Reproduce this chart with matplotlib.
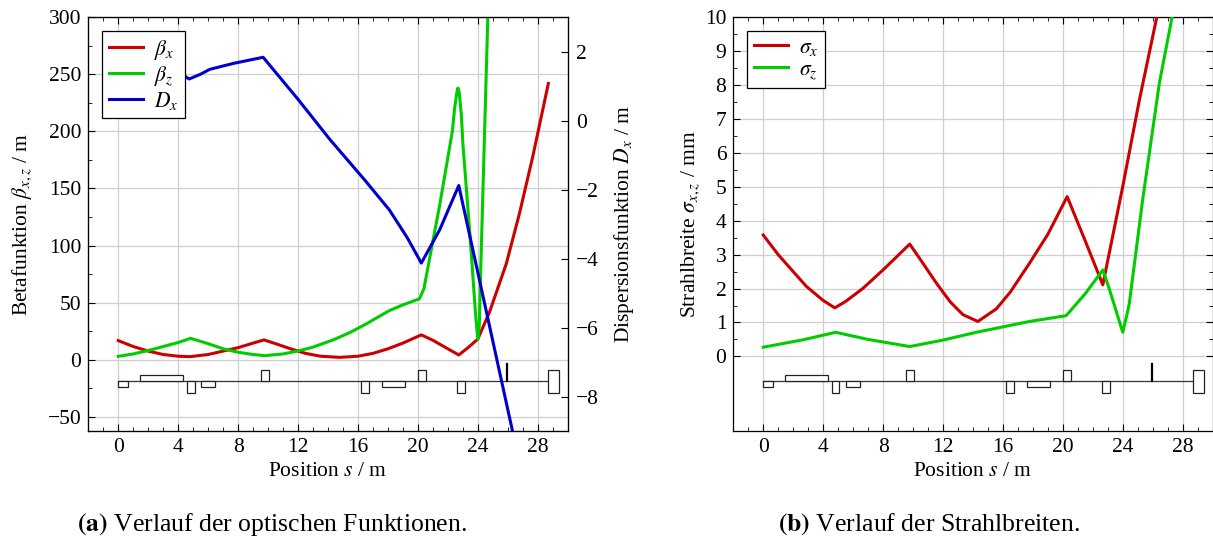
import matplotlib
matplotlib.use('Agg')
from matplotlib import pyplot as plt
from matplotlib import transforms
from matplotlib.patches import Rectangle
from matplotlib.ticker import MultipleLocator, FixedLocator

# ---- optische Funktionen ----
s_bx = [0, 1, 2, 3, 4, 4.78, 6, 7, 8, 9, 9.73, 10.5, 11.5, 12.5, 13.5, 14.78, 16, 17, 18, 19,
        20.23, 21, 22, 22.73, 23.3, 24, 24.78, 25.9, 26.78, 27.67, 28.71]
beta_x = [16.7, 11.5, 7.5, 4.5, 3.0, 2.6, 4.5, 7.5, 10.5, 14.5, 17.3, 14, 9.5, 5.5, 3, 2, 3, 5.5, 9.5, 14.5,
          21.7, 17, 9.5, 4.1, 10, 18, 41.6, 84, 128, 178, 242]

s_bz = [0, 1, 2, 3, 4, 4.83, 6, 7, 8, 9, 9.78, 11, 12.1, 13, 14.35, 15.5, 16.56, 17.5, 18.1, 19, 20.1,
        20.4, 21.45, 22.3, 22.45, 22.6, 22.67, 22.75, 22.9, 23.0, 23.5, 23.85, 24.0, 24.1, 24.2, 24.45,
        24.67, 24.8]
beta_z = [2.9, 5, 8, 11.5, 15, 18.7, 14, 9.5, 6.5, 4.5, 3.5, 5, 7.9, 11, 17.3, 24, 31.4, 38.5, 43, 48, 53.3,
          62, 135, 200, 220, 234, 238, 235, 215, 190, 105, 40, 18, 30, 81, 198, 301, 380]

s_dx = [0, 1.47, 3, 4.4, 4.73, 5.5, 6.11, 7.67, 9.67, 12, 14.1, 16.45, 18.1, 19.3, 20.23, 21.45, 22.73,
        24.11, 26.3, 26.5]
disp_x = [1.0, 1.0, 1.15, 1.3, 1.21, 1.35, 1.49, 1.66, 1.84, 0.62, -0.53, -1.72, -2.59, -3.4, -4.13, -3.17,
          -1.88, -4.62, -8.97, -9.37]

# ---- Strahlbreiten ----
s_sx = [0, 1, 2, 2.89, 4, 4.78, 5.5, 6.67, 8, 9.78, 10.5, 11.56, 12.5, 13.33, 14.33, 15.56, 16.5, 17.78,
        19, 20.29, 21.5, 22.67, 24.0, 25.11, 26.27, 26.6]
sigma_x = [3.58, 3.0, 2.5, 2.06, 1.65, 1.43, 1.62, 2.01, 2.55, 3.31, 2.85, 2.16, 1.6, 1.23, 1.03, 1.40, 1.9,
           2.75, 3.6, 4.71, 3.4, 2.11, 5.01, 7.56, 10.0, 10.7]

s_sz = [0, 2.67, 4.84, 7, 9.78, 12, 14.22, 16, 17.78, 20.22, 21.5, 22.67, 23.1, 23.67, 24.0, 24.33, 24.44,
        25.33, 26.44, 27.29, 27.5]
sigma_z = [0.27, 0.49, 0.71, 0.5, 0.29, 0.48, 0.71, 0.87, 1.03, 1.2, 1.85, 2.55, 1.99, 1.18, 0.71, 1.33, 1.57,
           4.62, 8.05, 10.0, 10.5]

# ---- Lattice ----
elem_start = [0.0, 1.47, 4.6, 5.51, 9.56, 16.23, 17.63, 20.03, 22.63, 28.67]
elem_len = [0.67, 2.86, 0.49, 0.92, 0.51, 0.5, 1.5, 0.5, 0.5, 0.78]
elem_kind = ['klein_unten', 'klein_oben', 'quad_unten', 'klein_unten', 'quad_oben',
             'quad_unten', 'klein_unten', 'quad_oben', 'quad_unten', 'gross']
marker_pos = [25.96]
lattice_end = 28.67

ROT = '#cc0000'
GRUEN = '#00cc00'
BLAU = '#0000cc'

plt.rcParams['font.family'] = ['Liberation Serif', 'DejaVu Serif']
plt.rcParams['mathtext.fontset'] = 'stix'
plt.rcParams['font.size'] = 15.5

# box heights in axes fraction (base, height)
BASIS = 0.12
hoehe = {
    'klein_unten': (BASIS - 0.0145, 0.0145),
    'klein_oben': (BASIS, 0.0145),
    'quad_unten': (BASIS - 0.028, 0.028),
    'quad_oben': (BASIS, 0.028),
    'gross': (BASIS - 0.028, 0.056),
}


def zeichne_lattice(ax):
    trans = transforms.blended_transform_factory(ax.transData, ax.transAxes)
    ax.plot([0, lattice_end], [BASIS, BASIS], color='#333333', lw=0.9, transform=trans, zorder=3)
    for st, ln, kind in zip(elem_start, elem_len, elem_kind):
        y0, h = hoehe[kind]
        ax.add_patch(Rectangle((st, y0), ln, h, transform=trans, facecolor='white',
                               edgecolor='#222222', lw=0.9, zorder=4))
    for m in marker_pos:
        ax.plot([m, m], [BASIS, BASIS + 0.041], color='black', lw=1.6, transform=trans, zorder=4)


def achsen_stil(ax):
    ax.set_xlim(-2, 30)
    ax.xaxis.set_major_locator(MultipleLocator(4))
    ax.xaxis.set_minor_locator(MultipleLocator(1))
    ax.grid(True, which='major', color='#cfcfcf', lw=0.9, zorder=0)
    ax.set_axisbelow(True)
    ax.tick_params(which='both', direction='in', top=True, pad=5)
    ax.tick_params(which='major', length=5)
    ax.tick_params(which='minor', length=3)
    ax.set_xlabel('Position $s$ / m', labelpad=4)
    for sp in ax.spines.values():
        sp.set_linewidth(0.9)


def legende(ax, handles):
    leg = ax.legend(handles=handles, loc='upper left', borderaxespad=0.65, fancybox=False,
                    framealpha=1, edgecolor='black', handlelength=1.6, labelspacing=0.1,
                    borderpad=0.3, handletextpad=0.5)
    leg.get_frame().set_linewidth(0.9)
    leg.set_zorder(10)
    return leg


fig = plt.figure(figsize=(12.13, 5.43), dpi=100)

# (a) optische Funktionen
ax = fig.add_axes([0.0728, 0.2063, 0.3952, 0.7619])
achsen_stil(ax)
ax.set_ylim(-62.5, 300)
ax.yaxis.set_major_locator(MultipleLocator(50))
ax.yaxis.set_minor_locator(MultipleLocator(25))
ax.tick_params(which='both', right=False)
l1, = ax.plot(s_bx, beta_x, color=ROT, lw=2.2, label=r'$\beta_x$', zorder=5)
l2, = ax.plot(s_bz, beta_z, color=GRUEN, lw=2.2, label=r'$\beta_z$', zorder=5)
zeichne_lattice(ax)
ax.set_ylabel(r'Betafunktion $\beta_{x,z}$ / m', labelpad=10)

ax2 = ax.twinx()
ax2.set_ylim(-9, 3)
ax2.yaxis.set_major_locator(FixedLocator([-8, -6, -4, -2, 0, 2]))
ax2.tick_params(direction='in', length=5, pad=6)
l3, = ax2.plot(s_dx, disp_x, color=BLAU, lw=2.2, label=r'$D_x$')
ax2.set_ylabel(r'Dispersionsfunktion $D_x$ / m', labelpad=9)
legende(ax2, [l1, l2, l3])

# (b) Strahlbreiten
bx = fig.add_axes([0.6045, 0.2063, 0.3952, 0.7619])
achsen_stil(bx)
bx.set_ylim(-2.2, 10)
bx.yaxis.set_major_locator(FixedLocator(range(0, 11)))
bx.yaxis.set_minor_locator(FixedLocator([k + 0.5 for k in range(10)]))
bx.tick_params(which='both', right=True)
m1, = bx.plot(s_sx, sigma_x, color=ROT, lw=2.2, label=r'$\sigma_x$', zorder=5)
m2, = bx.plot(s_sz, sigma_z, color=GRUEN, lw=2.2, label=r'$\sigma_z$', zorder=5)
zeichne_lattice(bx)
bx.set_ylabel(r'Strahlbreite $\sigma_{x,z}$ / mm', labelpad=2)
legende(bx, [m1, m2])

fig.text(272 / 1213, 1 - 524 / 543, r'$\mathbf{(a)}$ Verlauf der optischen Funktionen.',
         ha='center', va='center', fontsize=18.5)
fig.text(929 / 1213, 1 - 524 / 543, r'$\mathbf{(b)}$ Verlauf der Strahlbreiten.',
         ha='center', va='center', fontsize=18.5)

fig.savefig('out.png', dpi=100)
